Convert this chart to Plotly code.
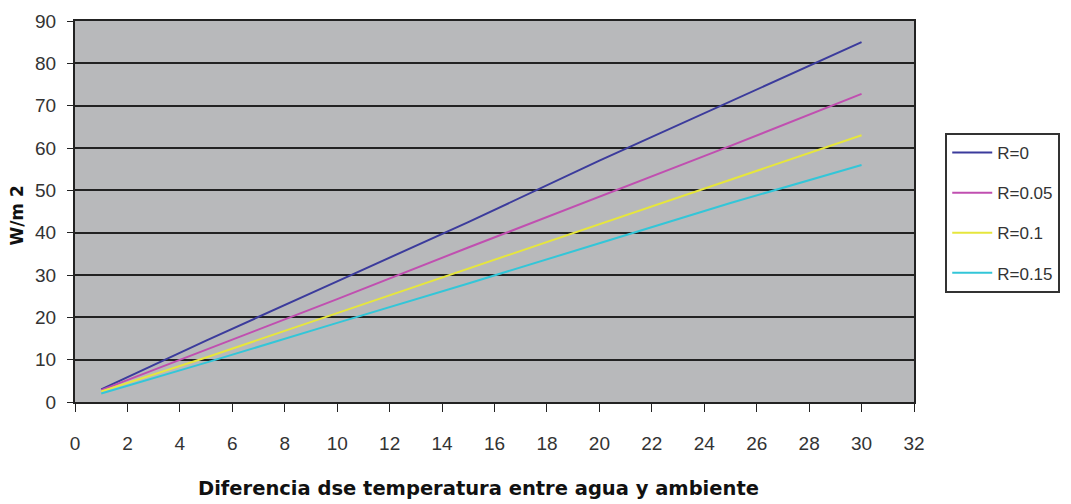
import plotly.graph_objects as go

# diferencia de temperatura (x) y pérdidas W/m2 por resistencia R
x = [1, 5, 10, 15, 20, 25, 30]
r0 = [3, 14.5, 28.5, 42.5, 57, 71, 85]
r005 = [2.8, 12.3, 24.3, 36.5, 48.5, 60.5, 72.8]
r01 = [2.5, 10.5, 21, 31.5, 42, 52.5, 63]
r015 = [2, 9.3, 18.7, 28, 37.5, 47, 56]

names = ["R=0", "R=0.05", "R=0.1", "R=0.15"]
colors = ["#3b3b9c", "#c04fb0", "#e6e63c", "#33c6d8"]

fig = go.Figure()
for name, ys, c in zip(names, [r0, r005, r01, r015], colors):
    fig.add_trace(go.Scatter(x=x, y=ys, mode="lines", name=name, legendgroup=name,
                             line=dict(color=c, width=2)))

# la página añade 8px de margen al body, se compensa aquí
fig.update_layout(
    width=1063, height=496,
    margin=dict(l=67, r=156, t=13, b=102),
    paper_bgcolor="white",
    plot_bgcolor="#b8b9bb",
    font=dict(family="Liberation Sans, Arial", size=19, color="#333"),
    showlegend=True,
    legend=dict(x=1.036, y=0.706, xanchor="left", yanchor="top",
                bgcolor="white", bordercolor="#333", borderwidth=2,
                tracegroupgap=15, font=dict(size=17),
                itemwidth=40),
    xaxis=dict(range=[0, 32], dtick=2, tick0=0, showgrid=False,
               showline=True, linecolor="#222", linewidth=2,
               ticks="outside", ticklen=8, tickcolor="#222",
               ticklabelstandoff=15, zeroline=False, automargin=False,
               mirror=True),
    yaxis=dict(range=[0, 90], dtick=10, showgrid=True, gridcolor="#222",
               gridwidth=2, showline=True, linecolor="#222", linewidth=2,
               ticks="outside", ticklen=6, tickcolor="#222", zeroline=False,
               ticklabelstandoff=7, automargin=False, mirror=True),
    annotations=[
        dict(text="<b>Diferencia dse temperatura entre agua y ambiente</b>",
             xref="paper", yref="paper", x=0.481, y=-0.226,
             xanchor="center", yanchor="middle", showarrow=False,
             font=dict(family="DejaVu Sans", size=19.5, color="#111")),
        dict(text="<b>W/m 2</b>", xref="paper", yref="paper",
             x=-0.0685, y=0.488, textangle=-90,
             xanchor="center", yanchor="middle", showarrow=False,
             font=dict(family="DejaVu Sans", size=17, color="#111")),
    ],
)

fig.write_html("out.html")
